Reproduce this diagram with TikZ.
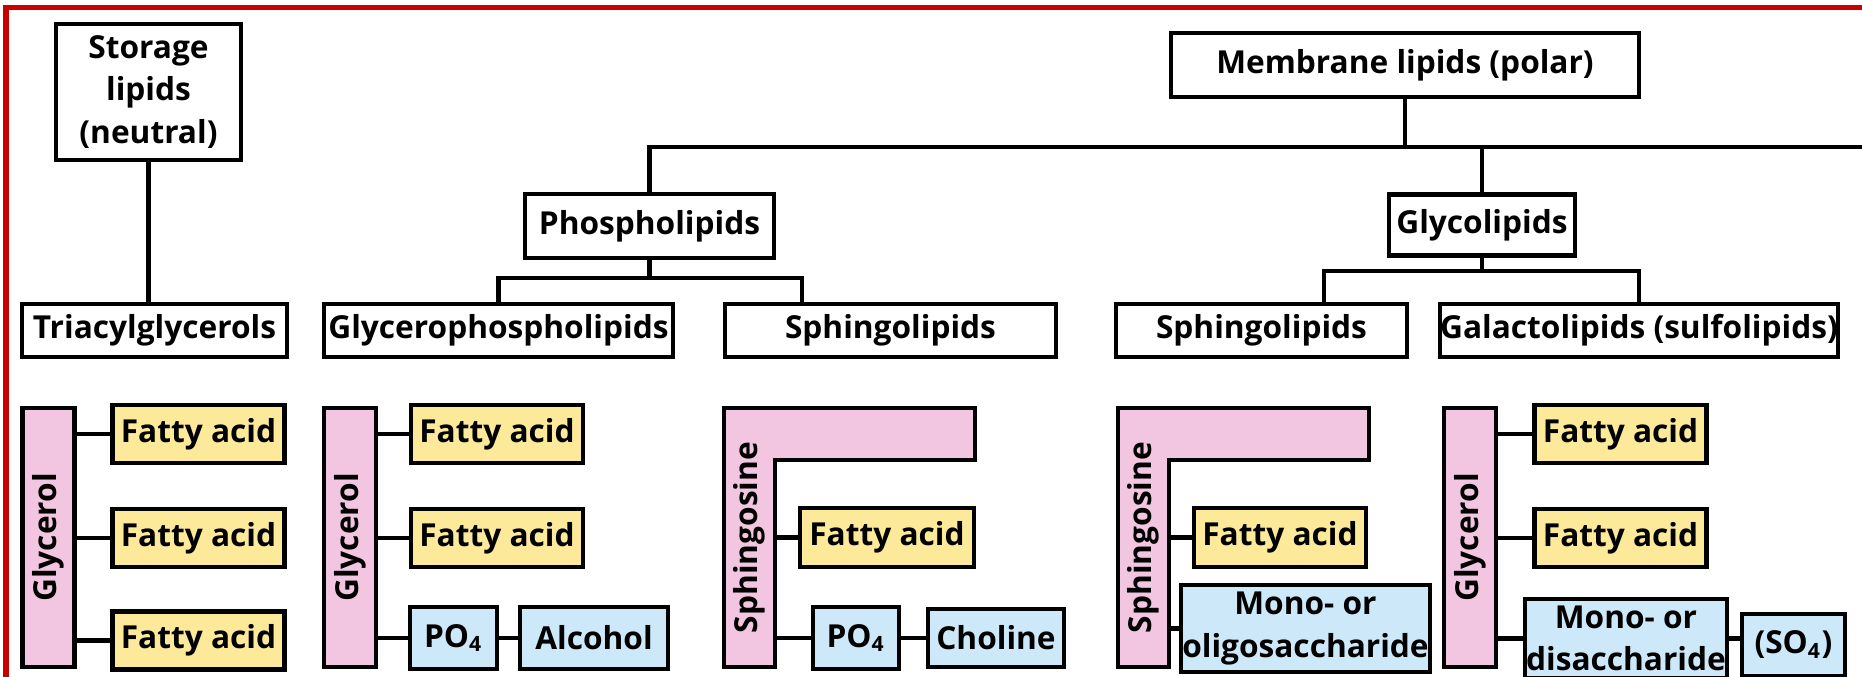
\documentclass[tikz,border=0pt]{standalone}
\usepackage{fontspec}
\setmainfont{Open Sans}
\usepackage{graphicx}
\definecolor{fayellow}{HTML}{FCE99A}
\definecolor{bbpink}{HTML}{F2C6E0}
\definecolor{polarblue}{HTML}{CDE8F8}
\definecolor{framered}{HTML}{C80000}

\begin{document}
\begin{tikzpicture}[x=0.01cm, y=-0.01cm,
  head/.style={rectangle, draw, line width=1.2pt, fill=white, inner sep=0pt, font=\bfseries\fontsize{9}{12}\selectfont, align=center},
  fatty/.style={head, fill=fayellow, minimum width=1.72cm, minimum height=0.58cm},
  polar/.style={head, fill=polarblue},
  backbone/.style={head, fill=bbpink, minimum width=0.52cm, minimum height=2.59cm},
  spine/.style={rectangle, inner sep=0pt, font=\bfseries\fontsize{9}{12}\selectfont, minimum width=0.51cm, minimum height=2.59cm},
  sphbar/.style={draw, fill=bbpink, line width=1.2pt},
  link/.style={draw=black, line width=1.2pt},
  frame/.style={draw=framered, line width=1.45pt},
]
\useasboundingbox (0,0) rectangle (1862,677);
\draw[frame] (6,677) -- (6,7.5) -- (1862,7.5);

%% Lipid classes
\node[head, minimum width=1.85cm, minimum height=1.36cm] (storage)  at (148.5,92)  {Storage\\lipids\\(neutral)};
\node[head, minimum width=4.68cm, minimum height=0.64cm] (membrane) at (1405,65)   {Membrane lipids (polar)};
\node[head, minimum width=2.49cm, minimum height=0.64cm] (phospho)  at (649.5,226) {Phospholipids};
\node[head, minimum width=1.86cm, minimum height=0.61cm] (glyco)    at (1482,225)  {Glycolipids};

\node[head, minimum width=2.65cm, minimum height=0.53cm] (tag)  at (154.5,330.5) {Triacylglycerols};
\node[head, minimum width=3.49cm, minimum height=0.53cm] (gpl)  at (498.5,330.5) {Glycerophospholipids};
\node[head, minimum width=3.31cm, minimum height=0.53cm] (sphA) at (890.5,330.5) {Sphingolipids};
\node[head, minimum width=2.91cm, minimum height=0.53cm] (sphB) at (1261.5,330.5) {Sphingolipids};
\node[head, minimum width=3.96cm, minimum height=0.53cm] (gal)  at (1639,330.5)  {Galactolipids (sulfolipids)};

%% Tree
\coordinate (trunk)    at (651,147);
\coordinate (trunkend) at (1862,147);
\coordinate (psplit)   at (649.5,278);
\coordinate (pright)   at (802,278);
\coordinate (gsplit)   at (1482,271);
\coordinate (gleft)    at (1324,271);

\draw[link] (storage.south) -- (storage.south |- tag.north);
\draw[link] (membrane.south) -- (membrane.south |- trunk);
\draw[link] (phospho.north) -- (phospho.north |- trunk) -- (trunkend);
\draw[link] (glyco.north) -- (glyco.north |- trunk);
\draw[link] (phospho.south) -- (psplit);
\draw[link] (gpl.north) |- (pright) -- (pright |- sphA.north);
\draw[link] (glyco.south) -- (gsplit);
\draw[link] (gleft |- sphB.north) -- (gleft) -| (gal.north);

%% Triacylglycerol
\node[backbone] (gly1) at (48.5,537.5) {\rotatebox{90}{Glycerol}};
\node[fatty] (faA1) at (198.5,434)   {Fatty acid};
\node[fatty] (faA2) at (198.5,538)   {Fatty acid};
\node[fatty] (faA3) at (198.5,640.5) {Fatty acid};
\foreach \f in {faA1,faA2,faA3} {
  \draw[link] (gly1.east |- \f) -- (\f);
}

%% Glycerophospholipid
\node[backbone] (gly2) at (350,537.5) {\rotatebox{90}{Glycerol}};
\node[fatty] (faB1) at (497,434) {Fatty acid};
\node[fatty] (faB2) at (497,538) {Fatty acid};
\node[polar, minimum width=0.87cm, minimum height=0.62cm] (poB)  at (453.5,638) {PO\textsubscript{4}};
\node[polar, minimum width=1.48cm, minimum height=0.62cm] (alcB) at (594,638)   {Alcohol};
\foreach \f in {faB1,faB2,poB} {
  \draw[link] (gly2.east |- \f) -- (\f);
}
\draw[link] (poB) -- (alcB);

%% Sphingolipid (phospho)
\draw[sphbar] (724,667) -- (724,408) -- (975,408) -- (975,460) -- (775,460) -- (775,667) -- cycle;
\node[spine] (sng1) at (749.5,537.5) {\rotatebox{90}{Sphingosine}};
\node[fatty, minimum width=1.74cm, minimum height=0.59cm] (faC) at (887,537.5) {Fatty acid};
\node[polar, minimum width=0.86cm, minimum height=0.62cm] (poC)  at (856,638) {PO\textsubscript{4}};
\node[polar, minimum width=1.36cm, minimum height=0.58cm] (choC) at (996,638) {Choline};
\draw[link] (sng1.east |- faC) -- (faC);
\draw[link] (sng1.east |- poC) -- (poC);
\draw[link] (poC) -- (choC);

%% Sphingolipid (glyco)
\draw[sphbar] (1118,667) -- (1118,408) -- (1369,408) -- (1369,460) -- (1169,460) -- (1169,667) -- cycle;
\node[spine] (sng2) at (1143.5,537.5) {\rotatebox{90}{Sphingosine}};
\node[fatty, minimum width=1.72cm, minimum height=0.59cm] (faD) at (1280,537.5) {Fatty acid};
\node[polar, minimum width=2.49cm, minimum height=0.87cm] (monoD) at (1305.5,628.5) {Mono- or\\oligosaccharide};
\draw[link] (sng2.east |- faD) -- (faD);
\draw[link] (sng2.east |- monoD) -- (monoD);

%% Galactolipid
\node[backbone] (gly3) at (1470,537.5) {\rotatebox{90}{Glycerol}};
\node[fatty] (faE1) at (1620.5,434) {Fatty acid};
\node[fatty] (faE2) at (1620.5,538) {Fatty acid};
\node[polar, minimum width=2.02cm, minimum height=0.79cm] (diE)  at (1626,638.5) {Mono- or\\disaccharide};
\node[polar, minimum width=1.03cm, minimum height=0.62cm] (so4E) at (1793.5,645) {(SO\textsubscript{4})};
\foreach \f in {faE1,faE2,diE} {
  \draw[link] (gly3.east |- \f) -- (\f);
}
\draw[link] (diE.east) -- (diE.east -| so4E.west);
\end{tikzpicture}
\end{document}
